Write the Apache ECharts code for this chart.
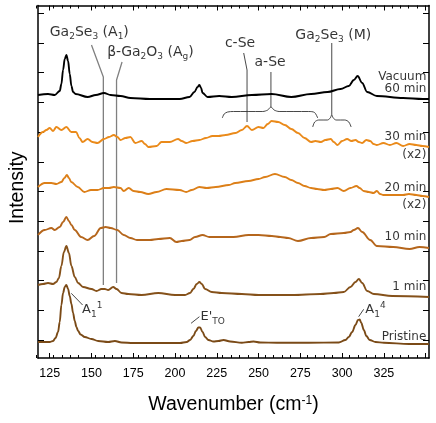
<!DOCTYPE html>
<html><head><meta charset="utf-8">
<script src="https://cdn.jsdelivr.net/npm/echarts@6/dist/echarts.min.js"></script>
<style>html,body{margin:0;padding:0;background:#fff}#c{width:436px;height:423px}</style>
</head><body><div id="c"></div>
<script>
// ---------------- data ----------------
const xMin = 118, xMax = 352;
const yMin = -18, yMax = 334.5;
const majorTicks = [125,150,175,200,225,250,275,300,325,350];
const tickLabels = [125,150,175,200,225,250,275,300,325];
const minorTicks = [120,130,135,140,145,155,160,165,170,180,185,190,195,205,210,215,220,230,235,240,245,255,260,265,270,280,285,290,295,305,310,315,320,330,335,340,345];
const yTicks = [0,29.7,59.4,89.1,118.8,148.5,178.2,207.9,237.6,267.3,297,326.7];

const pristine = [[118,-2],[122,-2],[125,-2],[127,-1],[128.5,2],[130,8],[131,18],[132,35],[133,47],[134,53],[135,55],[136,51],[137,44],[138,36],[139,27],[140,19],[141,13],[142,9],[143.5,5.5],[146,3],[150,1],[154,-1],[160,-2],[164,-1],[168,-2.5],[175,-3],[185,-3],[195,-3],[203,-3],[207,-2],[209,0],[211,4],[212.5,9],[214,12.5],[215,12.5],[216.5,8],[218,3],[220,0],[223,-1.5],[226,-1],[229,0],[233,-1.5],[240,-2.7],[244,-2],[247,-1.5],[251,-2.5],[261,-2.7],[280,-2.7],[298,-2.5],[302,0],[304,3],[306,8],[308,15],[309.5,20],[310.5,20.5],[311.5,17],[313,10],[314.5,4],[316.5,0],[320,-2],[325,-2.7],[340,-4],[352,-4]];
const min1 = [[118,55],[121,56],[124,57],[127,56],[129,58],[130.5,62],[132,74],[133.5,88],[135,94],[136.5,87],[138,74],[140,63],[142,57],[145,53],[150,51],[153,49],[156,51],[158,51],[160,50],[163,53],[165,51],[168,47],[172,46],[180,45],[190,47],[200,45],[206,45],[209,47],[211,51],[213,56],[214.6,58],[216,56],[218,51],[222,48],[228,47],[240,46],[250,45],[270,45],[287,46],[295,47],[301,48],[305,53],[308,58],[310,61],[312,57],[315,49],[319,46],[330,44],[352,43]];
const min10 = [[118,105],[122,110],[126,112],[128,110],[131,113],[133,118],[135,123],[136.5,119],[138,115],[140,110],[143.8,103],[147.7,100],[151.6,104],[155.6,112],[158.5,113],[161.5,112],[165.4,110],[169.3,105],[173.3,102],[177.2,100],[185,100],[190,101],[196.9,102],[200.8,98],[204,99],[208.7,100],[212,103],[216.5,105],[220.5,103],[228,103],[235,103],[244,105],[250,105],[258,104],[263,103],[267.7,102],[273.6,99],[281.4,102],[289.3,103],[293.2,106],[301,107],[305,108],[307,110],[309.5,112],[312,108],[316.8,100],[320.8,94],[330.6,93],[340.4,91],[346.3,93],[352,92]];
const min20 = [[118,153],[122,157],[126,157],[129,156],[132,158],[133.8,162],[135.3,165],[136.5,162],[137.9,158],[141.8,153],[145.7,148],[149.7,150],[153.6,150],[157.5,152],[160.5,152],[163.4,153],[167.4,152],[169.3,149],[172.3,152],[175.2,149],[179.2,148],[184,146],[189,148],[194.9,151],[202.8,150],[206.7,148],[210,150],[214.6,153],[219,152],[224.4,153],[232.3,155],[236,157],[244,159],[250,161],[253.9,163],[259.8,166],[265.7,163],[269.6,160],[273.6,157],[277.5,154],[281.4,152],[285,151],[289.3,150],[293.2,151],[297.2,152],[301,149],[305,152],[308.6,154],[310.5,152],[312.9,149],[316,148],[318.8,147],[320.8,149],[322.7,146],[324.7,145],[330,145],[336.5,145],[340,146],[344.4,145],[348,144],[352,143]];
const min30 = [[118,203],[121,208],[123,210],[125,212],[127,209],[129,213],[132,210],[135,213],[137.9,208],[140.8,208],[142.8,202],[144.7,198],[147.7,201],[150.6,198],[153.6,197],[157.5,201],[160.5,203],[163.4,205],[165.5,203],[167.4,200],[170.3,202],[173.3,203],[176.2,197],[180.1,199],[182,196],[184.1,193],[189,194],[191.9,198],[196.9,198],[201.8,201],[204,199],[206.7,197],[210.5,199],[214.6,200],[218.5,202],[222.4,204],[226,204],[230.3,205],[236.2,207],[240,210],[243.1,214],[246,210],[250,213],[252.9,212],[255.5,216],[257.8,219],[261.8,218],[265.7,215],[269.6,211],[273.6,207],[277.5,202],[281.4,198],[284,199],[287.3,198],[290,200],[293.2,201],[295,198],[297.2,195],[300,199],[303,201],[305.5,199],[308,200],[310,198],[312,197],[314.5,200],[316.8,199],[318.8,196],[320.8,195],[324.7,197],[328.6,195],[332.5,197],[336.5,194],[340.4,196],[344.4,195],[348,194],[352,193]];
const vacuum = [[118,245],[124,246],[128,245],[131,249],[132,256],[133,270],[134,281],[135,285],[136,279],[137,266],[138,254],[139,248],[140.5,246],[147.7,243],[152.6,245],[157.5,247],[161.5,245],[167.4,244],[173.3,242],[185,241],[194.9,241],[202.8,241],[208.7,243],[211.6,248],[213.5,253],[214.6,255],[215.6,252],[216.5,247],[219.5,243],[226.4,244],[234,243],[246,245],[257.8,246],[269.6,243],[281.4,246],[291.3,248],[299.1,251],[304,254],[307,260],[309.3,264],[312,257],[315,248],[320.8,244],[336.5,242],[348.3,241],[352,241]];

const seriesNames = ['Pristine','1 min','10 min','20 min','30 min','Vacuum 60 min'];
const seriesData = [pristine, min1, min10, min20, min30, vacuum];

// annotation geometry (data coordinates)
const markerLines = [
  [[150.0,295],[157.1,263],[157.1,55]],
  [[168.3,278],[165.0,260],[165.0,57]]
];
const thinLines = [
  [[241.1,287],[243.1,270],[243.1,218]],
  [[257.4,268],[257.4,233]],
  [[293.8,297],[293.8,225]],
  [[137.9,46.7],[144.7,35]],
  [[209.6,16.7],[214.6,23.3]],
  [[309.9,23.3],[312.9,30.7]]
];
const braces = [
  [[228.3,222],[229.4,226],[231.5,228],[235,228.5],[252.5,228.5],[255.5,230],[257.4,233],[259.3,230],[262.3,228.5],[280,228.5],[283.5,227.5],[285.4,222]],
  [[282.4,213],[283.6,218],[286,220],[291.2,220],[292.9,222],[293.8,225],[294.7,222],[296.4,220],[301.6,220],[304,218],[305.4,213]]
];
const annotTexts = [
  [148.7,308,'Ga{s|2}Se{s|3} (A{s|1})'],
  [185.3,288,'β-Ga{s|2}O{s|3} (A{s|g})'],
  [238.9,297,'c-Se'],
  [256.9,278,'a-Se'],
  [294.7,305,'Ga{s|2}Se{s|3} (M)']
];
const peakTexts = [
  [144.4,30,'A{s|1}{p|1}'],
  [215.3,23,"E'{s|TO}"],
  [313.9,30,'A{s|1}{p|4}']
];
const sideTexts = [
  [350.4,263,'Vacuum'],[350.4,251,'60 min'],
  [350.4,203,'30 min'],[350.4,185,'(x2)'],
  [350.4,152,'20 min'],[350.4,135,'(x2)'],
  [350.4,103,'10 min'],[350.4,53,'1 min'],[350.4,3,'Pristine']
];

// ---------------- chart ----------------
const colors = ['#7a4a17','#85511a','#b5661c','#dc7f18','#ea8a1a','#000000'];
const FA = "'Liberation Sans', Arial, sans-serif";
const FT = "'DejaVu Sans', Verdana, sans-serif";
const gridBox = {left:33, right:7, top:5.5, bottom:65};

function xAxis(grid, pos, ticks, len, main){
  return {type:'value', gridIndex:grid, position:pos, min:xMin, max:xMax,
    axisLine:{show:main, onZero:false, lineStyle:{color:'#000', width:1.5}},
    axisTick:{show:true, inside:true, length:len, customValues:ticks, lineStyle:{color:'#000', width:1}},
    axisLabel:{show:main && pos==='bottom', customValues:tickLabels, margin:9, fontSize:12.5, fontFamily:FA, color:'#000'},
    splitLine:{show:false}};
}
function yAxis(grid, pos, show){
  return {type:'value', gridIndex:grid, position:pos, min:yMin, max:yMax, show:show,
    axisLine:{show:true, onZero:false, lineStyle:{color:'#000', width:1.5}},
    axisTick:{show:true, inside:true, length:6, customValues:yTicks, lineStyle:{color:'#000', width:1}},
    axisLabel:{show:false}, splitLine:{show:false}};
}

const xAxes = [xAxis(0,'bottom',majorTicks,5,true), xAxis(0,'top',majorTicks,5,true),
               xAxis(1,'bottom',minorTicks,3,false), xAxis(1,'top',minorTicks,3,false)];
xAxes[0].name = 'Wavenumber (cm{p|-1})';
xAxes[0].nameLocation = 'middle';
xAxes[0].nameGap = 37;
xAxes[0].nameTextStyle = {fontSize:19.5, fontFamily:FA, color:'#000',
  rich:{p:{fontSize:12, fontFamily:FA, color:'#000', verticalAlign:'top', lineHeight:10}}};
const yAxes = [yAxis(0,'left',true), yAxis(0,'right',true), yAxis(1,'left',false)];
yAxes[0].name = 'Intensity';
yAxes[0].nameLocation = 'middle';
yAxes[0].nameGap = 10;
yAxes[0].nameTextStyle = {fontSize:19.5, fontFamily:FA, color:'#000', padding:[0,12,0,0]};

const series = [];
seriesData.forEach((d,i)=>{
  series.push({type:'line', name:seriesNames[i], data:d, xAxisIndex:0, yAxisIndex:0,
    showSymbol:false, symbol:'none', smooth:0.35, smoothMonotone:'x',
    lineStyle:{color:colors[i], width:1.9}, silent:true, z:3});
});
markerLines.forEach(p=>series.push({type:'line', data:p, xAxisIndex:0, yAxisIndex:0, symbol:'none',
  lineStyle:{color:'#808080', width:1.3}, silent:true, z:2}));
thinLines.forEach(p=>series.push({type:'line', data:p, xAxisIndex:0, yAxisIndex:0, symbol:'none',
  lineStyle:{color:'#333', width:0.9}, silent:true, z:2}));
braces.forEach(p=>series.push({type:'line', data:p, xAxisIndex:0, yAxisIndex:0, symbol:'none', smooth:0.3,
  lineStyle:{color:'#333', width:0.9}, silent:true, z:2}));

const richBig = {s:{fontSize:9, fontFamily:FT, color:'#000', verticalAlign:'bottom', lineHeight:9},
                 p:{fontSize:9, fontFamily:FT, color:'#000', verticalAlign:'top', lineHeight:9}};
function textSeries(items, size, align){
  return {type:'scatter', xAxisIndex:0, yAxisIndex:0, symbolSize:0, silent:true, z:5,
    data: items.map(t=>({value:[t[0],t[1]], label:{formatter:t[2]}})),
    label:{show:true, position:'inside', align:align, verticalAlign:'middle',
      fontSize:size, fontFamily:FT, color:'#000', lineHeight:18, rich:richBig}};
}
series.push(textSeries(annotTexts, 14, 'center'));
series.push(textSeries(peakTexts, 13, 'left'));
series.push(textSeries(sideTexts, 12, 'right'));

const chart = echarts.init(document.getElementById('c'), null, {renderer:'canvas'});
chart.setOption({
  animation:false, backgroundColor:'#fff',
  grid:[Object.assign({}, gridBox), Object.assign({}, gridBox)],
  xAxis:xAxes, yAxis:yAxes, series:series
});
</script></body></html>
